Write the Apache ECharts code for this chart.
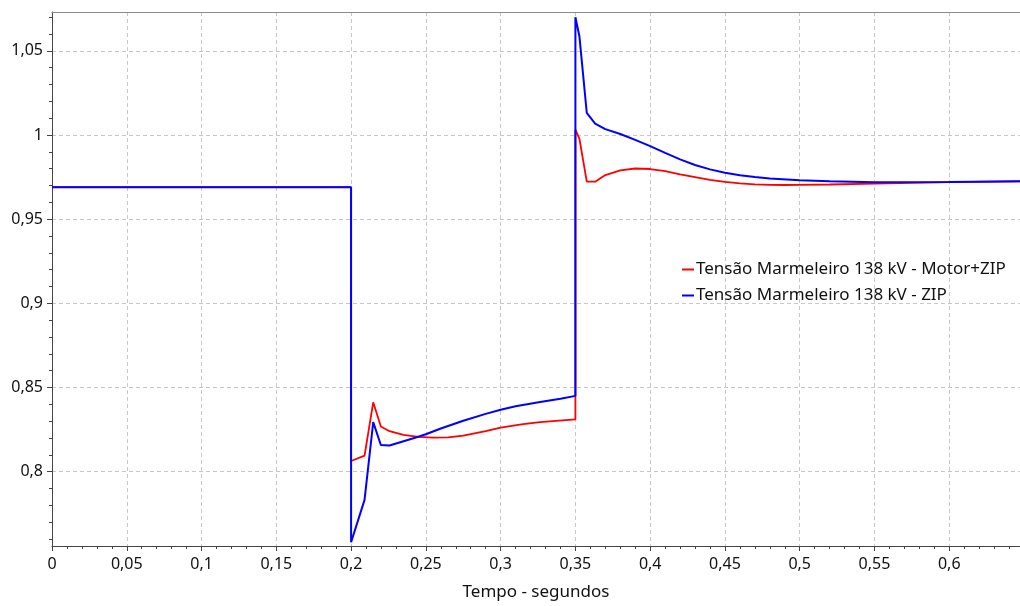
<!DOCTYPE html>
<html>
<head>
<meta charset="utf-8">
<script src="https://cdn.jsdelivr.net/npm/echarts@6/dist/echarts.min.js"></script>
<style>
html,body{margin:0;padding:0;background:#fff;}
#chart{width:1020px;height:606px;}
</style>
</head>
<body>
<div id="chart"></div>
<script>
// ---- data ----
const seriesNames = ['Tensão Marmeleiro 138 kV - Motor+ZIP', 'Tensão Marmeleiro 138 kV - ZIP'];
const xAxisName = 'Tempo - segundos';
const yMajorTicks = [0.8, 0.85, 0.9, 0.95, 1, 1.05];
const yMinorTicks = [0.76,0.77,0.78,0.79,0.8,0.81,0.82,0.83,0.84,0.85,0.86,0.87,0.88,0.89,0.9,0.91,0.92,0.93,0.94,0.95,0.96,0.97,0.98,0.99,1,1.01,1.02,1.03,1.04,1.05,1.06,1.07];

const motorTime = [0, 0.2, 0.2, 0.209, 0.2148, 0.2199, 0.2257, 0.235, 0.245, 0.255, 0.265, 0.275, 0.29, 0.3, 0.315, 0.3264, 0.35,
  0.35, 0.3527, 0.3576, 0.3632, 0.37, 0.38, 0.39, 0.40, 0.41, 0.42, 0.43, 0.44, 0.45, 0.46, 0.47, 0.48, 0.49, 0.50, 0.52, 0.55, 0.60, 0.6473];
const motorVolt = [0.969, 0.969, 0.8063, 0.8095, 0.8412, 0.8268, 0.8240, 0.8218, 0.8206, 0.8202, 0.8203, 0.8214, 0.8240, 0.8262, 0.8282, 0.8294, 0.8310,
  1.0032, 0.9977, 0.9723, 0.9723, 0.9762, 0.9790, 0.9801, 0.9798, 0.9785, 0.9766, 0.9750, 0.9734, 0.9722, 0.9713, 0.9707, 0.9704, 0.9703, 0.9704, 0.9706, 0.9711, 0.9720, 0.9725];

const zipTime = [0, 0.2, 0.2, 0.209, 0.2148, 0.2199, 0.2257, 0.2428, 0.25, 0.26, 0.275, 0.29, 0.3, 0.31, 0.3264, 0.34, 0.35,
  0.35, 0.3527, 0.3576, 0.3632, 0.37, 0.38, 0.39, 0.40, 0.41, 0.42, 0.43, 0.44, 0.45, 0.46, 0.47, 0.48, 0.50, 0.52, 0.55, 0.60, 0.6473];
const zipVolt = [0.969, 0.969, 0.758, 0.7832, 0.8294, 0.8158, 0.8155, 0.8201, 0.8222, 0.8256, 0.8302, 0.8343, 0.8368, 0.8388, 0.8414, 0.8433, 0.8450,
  1.0700, 1.0585, 1.0131, 1.0068, 1.0035, 1.0006, 0.9971, 0.9934, 0.9894, 0.9855, 0.9822, 0.9796, 0.9776, 0.9761, 0.9750, 0.9742, 0.9731, 0.9725, 0.9719, 0.9721, 0.9725];

const xMin = 0, xMax = 0.6473, yMin = 0.7558, yMax = 1.0731;
// ---- chart ----
const pair = (t, v) => t.map((x, i) => [x, v[i]]);
const fmt = v => String(Math.round(v * 1000) / 1000).replace('.', ',');
const font = 'Noto Sans';
const axisCol = '#444';
const gridLine = { show: true, lineStyle: { color: '#c8c8c8', type: [4, 3], width: 1 } };

const chart = echarts.init(document.getElementById('chart'), null, { renderer: 'canvas' });
chart.setOption({
  animation: false,
  backgroundColor: '#fff',
  grid: { left: 52, right: 0, top: 12, bottom: 58, containLabel: false },
  legend: {
    orient: 'vertical', left: 677, top: 256, itemGap: 9,
    icon: 'rect', itemWidth: 12, itemHeight: 2,
    textStyle: { fontFamily: font, fontSize: 17, color: '#111', padding: [0, 0, 0, -3] },
    data: seriesNames
  },
  xAxis: [{
    type: 'value', min: xMin, max: xMax, interval: 0.05,
    name: xAxisName, nameLocation: 'middle', nameGap: 38,
    nameTextStyle: { fontFamily: font, fontSize: 17, color: '#111' },
    axisLine: { show: true, onZero: false, lineStyle: { color: axisCol } },
    axisTick: { show: true, length: 5, lineStyle: { color: axisCol } },
    minorTick: { show: true, splitNumber: 5, length: 3, lineStyle: { color: axisCol } },
    axisLabel: { fontFamily: font, fontSize: 16, color: '#111', margin: 10, formatter: fmt, showMaxLabel: false },
    splitLine: gridLine
  }, {
    type: 'value', position: 'top', min: xMin, max: xMax,
    axisLine: { show: true, lineStyle: { color: '#8a8a8a' } },
    axisTick: { show: false }, axisLabel: { show: false }, splitLine: { show: false }
  }],
  yAxis: [{
    type: 'value', min: yMin, max: yMax,
    axisLine: { show: true, onZero: false, lineStyle: { color: axisCol } },
    axisTick: { show: true, length: 5, customValues: yMajorTicks, lineStyle: { color: axisCol } },
    axisLabel: { fontFamily: font, fontSize: 16, color: '#111', margin: 9, customValues: yMajorTicks, formatter: fmt },
    splitLine: gridLine
  }, {
    type: 'value', position: 'left', min: yMin, max: yMax,
    axisLine: { show: false },
    axisTick: { show: true, length: 3, customValues: yMinorTicks, lineStyle: { color: axisCol } },
    axisLabel: { show: false }, splitLine: { show: false }
  }],
  series: [{
    name: seriesNames[0], type: 'line', data: pair(motorTime, motorVolt),
    showSymbol: false, symbol: 'none', color: '#ff0000', lineStyle: { width: 1.8, color: '#ff0000' }, z: 3
  }, {
    name: seriesNames[1], type: 'line', data: pair(zipTime, zipVolt),
    showSymbol: false, symbol: 'none', color: '#0000ff', lineStyle: { width: 2, color: '#0000ff' }, z: 4
  }]
});
</script>
</body>
</html>
